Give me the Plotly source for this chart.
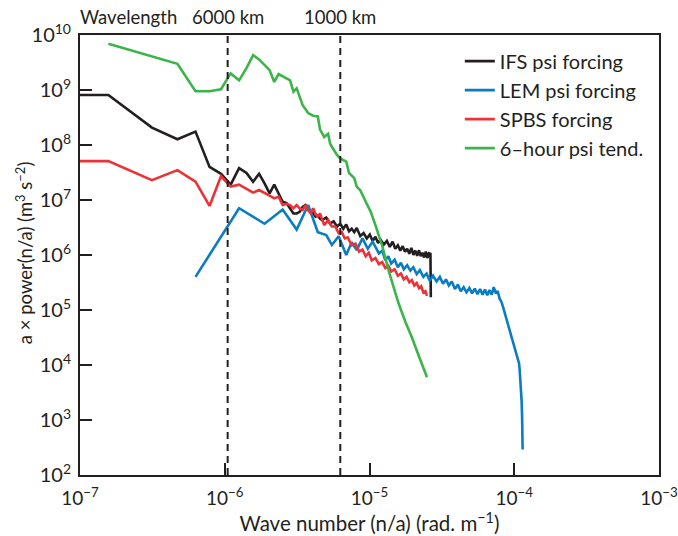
import math
import plotly.graph_objects as go

EARTH_RADIUS_M = 6.371e6

# ---- data (spherical wavenumber index n, power) ----
ifs_n = [0.5, 1, 2, 3, 4, 5, 6, 7, 8, 9, 10, 11, 12, 13, 14, 15, 16, 17, 18, 19, 20,
         21, 22, 23, 24, 25, 26, 27, 28, 29, 30,
         32, 34, 36, 38, 40, 42, 44, 46, 48, 50, 52, 55, 58, 61, 64, 67, 70, 73, 76,
         80, 84, 88, 92, 96, 100, 104, 108, 112, 116, 120, 124, 128, 132, 136, 140,
         144, 148, 152, 156, 160, 164, 168, 169]
ifs_p = [8.1e8, 8.1e8, 2.07e8, 1.27e8, 1.75e8, 4.0e7, 3.0e7, 1.9e7, 3.8e7, 3.1e7, 2.15e7,
         3.0e7, 2.0e7, 1.32e7, 1.9e7, 1.28e7, 9.3e6, 8.8e6, 7.1e6, 5.7e6, 5.7e6,
         6.1e6, 7.5e6, 8.1e6, 6.6e6, 6.2e6, 5.8e6, 5.0e6, 5.2e6, 4.6e6, 4.3e6,
         4.8e6, 3.7e6, 4.1e6, 3.3e6, 3.7e6, 3.0e6, 3.6e6, 2.7e6, 3.0e6, 2.6e6, 3.1e6,
         2.2e6, 2.5e6, 2.0e6, 2.35e6, 1.8e6, 2.15e6, 1.65e6, 1.9e6,
         1.55e6, 1.8e6, 1.4e6, 1.75e6, 1.3e6, 1.5e6, 1.2e6, 1.45e6, 1.15e6, 1.3e6,
         1.05e6, 1.35e6, 1.0e6, 1.2e6, 0.97e6, 1.22e6, 0.95e6, 1.1e6, 0.9e6, 1.15e6,
         0.88e6, 1.08e6, 1.05e6, 1.7e5]

lem_n = [4, 8, 12, 16, 20, 24, 28, 32, 35, 39, 44, 48, 52, 57, 62, 67, 74,
         78, 82, 86, 90, 95, 100, 105, 110, 116, 122, 128, 135, 142, 150, 158, 166,
         175, 185, 195, 205, 215, 225, 236, 248, 260, 272, 285, 298, 312, 326, 340,
         355, 370, 385, 400, 415, 430, 445, 460, 475, 490, 505, 520, 535, 550, 565,
         580, 595, 610, 625, 640, 655, 670, 688, 695, 703, 710, 716, 722, 726, 728]
lem_p = [4.0e5, 7.1e6, 3.7e6, 6.7e6, 2.9e6, 8.1e6, 2.6e6, 2.3e6, 1.52e6, 2.2e6, 1.0e6,
         1.7e6, 1.23e6, 2.0e6, 1.3e6, 1.75e6, 1.07e6,
         1.2e6, 0.8e6, 0.95e6, 0.7e6, 0.82e6, 0.6e6, 0.72e6, 0.55e6, 0.65e6, 0.52e6,
         0.6e6, 0.45e6, 0.53e6, 0.4e6, 0.46e6, 0.34e6,
         0.42e6, 0.33e6, 0.4e6, 0.3e6, 0.36e6, 0.28e6, 0.33e6, 0.24e6, 0.29e6, 0.22e6,
         0.26e6, 0.21e6, 0.25e6, 0.2e6, 0.245e6,
         0.195e6, 0.24e6, 0.19e6, 0.235e6, 0.185e6, 0.23e6, 0.19e6, 0.26e6, 0.2e6,
         0.22e6, 0.16e6, 0.14e6, 0.11e6, 0.085e6, 0.07e6,
         0.055e6, 0.043e6, 0.035e6, 0.027e6, 0.022e6, 0.017e6, 0.014e6, 1.07e4, 8e3,
         5.3e3, 3.5e3, 2.3e3, 1.15e3, 6e2, 2.9e2]

spbs_n = [0.5, 1, 2, 3, 4, 5, 6, 7, 8, 10, 11, 12, 13, 14, 15, 16, 17, 18, 19, 20,
          21, 22, 23, 24, 25, 26, 27, 28, 29, 31, 33, 35, 37, 39, 41, 43, 45, 48, 51,
          54, 57, 60, 63, 66, 70, 74, 78, 82, 86, 90, 95, 100, 105, 110, 115, 120, 125,
          130, 135, 140, 145, 150, 155, 159]
spbs_p = [5.1e7, 5.1e7, 2.3e7, 3.5e7, 2.15e7, 7.8e6, 2.7e7, 1.75e7, 1.9e7, 1.36e7,
          1.52e7, 1.32e7, 1.2e7, 1.07e7, 1.15e7, 8.1e6, 8.5e6, 8.1e6, 7.1e6, 8.1e6,
          7.0e6, 6.6e6, 8.1e6, 6.5e6, 5.7e6, 7.1e6, 5.5e6, 5.0e6, 5.7e6, 3.5e6, 4.3e6,
          3.3e6, 3.3e6, 2.5e6, 2.6e6, 2.0e6, 2.1e6, 1.5e6, 1.6e6,
          1.15e6, 1.25e6, 0.95e6, 1.1e6, 0.8e6, 0.88e6, 0.68e6, 0.74e6, 0.58e6, 0.64e6,
          0.5e6, 0.55e6, 0.42e6, 0.46e6, 0.36e6, 0.4e6, 0.32e6, 0.35e6,
          0.28e6, 0.31e6, 0.25e6, 0.27e6, 0.21e6, 0.22e6, 0.18e6]

tend_n = [1, 2, 3, 4, 5, 6, 7, 8, 9, 10, 11, 13, 14, 15, 18, 19, 20, 22, 24, 26, 28,
          29, 31, 33, 34, 35, 38, 40, 44, 46, 50, 52, 55, 60, 65, 70, 74, 78, 87, 101,
          113, 125, 139, 151, 159]
tend_p = [6.9e9, 4.0e9, 3.0e9, 9.5e8, 9.5e8, 1.03e9, 2.0e9, 1.5e9, 2.5e9, 4.3e9, 3.6e9,
          2.3e9, 1.4e9, 1.95e9, 1.5e9, 9.3e8, 1.07e9, 5.3e8, 3.8e8, 3.4e8, 3.3e8,
          1.9e8, 1.4e8, 1.6e8, 1.07e8, 9.3e7, 6.6e7, 5.7e7, 5.0e7, 3.1e7, 2.5e7, 1.75e7,
          1.5e7, 9.3e6, 6.1e6, 3.5e6, 2.3e6, 1.46e6, 4.9e5, 1.34e5,
          6.0e4, 3.2e4, 1.5e4, 8.1e3, 6.0e3]

series_names = ["IFS psi forcing", "LEM psi forcing", "SPBS forcing", "6\u2013hour psi tend."]
series_colors = ["#231f20", "#0a7dc2", "#ec3237", "#3bb44a"]

wavelength_km = [6000, 1000]
wavelength_labels = ["6000 km", "1000 km"]

x_tickvals = [1e-7, 1e-6, 1e-5, 1e-4, 1e-3]
x_ticktext = ["10<sup>\u22127</sup>", "10<sup>\u22126</sup>", "10<sup>\u22125</sup>",
              "10<sup>\u22124</sup>", "10<sup>\u22123</sup>"]
y_tickvals = [1e2, 1e3, 1e4, 1e5, 1e6, 1e7, 1e8, 1e9, 1e10]
y_ticktext = ["10<sup>%d</sup>" % e for e in range(2, 11)]

FONT = "Lato"
INK = "#231f20"

fig = go.Figure()
for n_vals, p_vals, name, color in zip([ifs_n, lem_n, spbs_n, tend_n],
                                       [ifs_p, lem_p, spbs_p, tend_p],
                                       series_names, series_colors):
    fig.add_trace(go.Scatter(
        x=[n / EARTH_RADIUS_M for n in n_vals], y=p_vals, mode="lines", name=name,
        line=dict(color=color, width=2.6), hoverinfo="skip"))

for lam, lab in zip(wavelength_km, wavelength_labels):
    k = 2 * math.pi / (lam * 1000.0)
    fig.add_shape(type="line", xref="x", yref="paper", x0=k, x1=k, y0=0, y1=1,
                  line=dict(color=INK, width=2, dash="7px,5px"))
    fig.add_annotation(x=math.log10(k), xref="x", y=1.04, yref="paper", text=lab,
                       showarrow=False, xanchor="center", yanchor="middle",
                       font=dict(size=18.5, color=INK, family=FONT))
fig.add_annotation(x=-0.004, xref="paper", y=1.04, yref="paper", text="Wavelength",
                   showarrow=False, xanchor="left", yanchor="middle",
                   font=dict(size=18.5, color=INK, family=FONT))

# y-axis title as rotated text, placed where the reference has it
fig.add_annotation(x=-0.096, xref="paper", y=0.505, yref="paper",
                   text="a \u00d7 power(n/a) (m<sup>3</sup> s<sup>\u22122</sup>)",
                   textangle=-90, showarrow=False, xanchor="center", yanchor="middle",
                   font=dict(size=18.5, color=INK, family=FONT))

axis_common = dict(showgrid=False, zeroline=False, showline=True, linecolor=INK,
                   linewidth=2, mirror=True, ticks="inside", ticklen=12, tickwidth=2,
                   tickcolor=INK, automargin=False)
fig.update_xaxes(type="log", range=[-7.0002, -2.9998], tickvals=x_tickvals,
                 ticktext=x_ticktext, ticklabelstandoff=5, ticklabeloverflow="allow",
                 tickfont=dict(size=19, color=INK, family=FONT),
                 title=dict(text="Wave number (n/a) (rad. m<sup>\u22121</sup>)",
                            font=dict(size=20.5, color=INK, family=FONT), standoff=4),
                 **axis_common)
fig.update_yaxes(type="log", range=[2, 10], tickvals=y_tickvals, ticktext=y_ticktext,
                 ticklabelstandoff=3, ticklabeloverflow="allow",
                 tickfont=dict(size=20, color=INK, family=FONT),
                 **axis_common)

fig.update_layout(
    width=678, height=536,
    margin=dict(l=80, r=19, t=35, b=61, autoexpand=False),
    paper_bgcolor="white", plot_bgcolor="white",
    showlegend=True,
    legend=dict(x=0.656, xanchor="left", y=0.985, yanchor="top",
                font=dict(size=20, color=INK, family=FONT),
                bgcolor="rgba(0,0,0,0)", borderwidth=0, tracegroupgap=0),
    font=dict(family=FONT, color=INK),
)

fig.write_html("out.html")
